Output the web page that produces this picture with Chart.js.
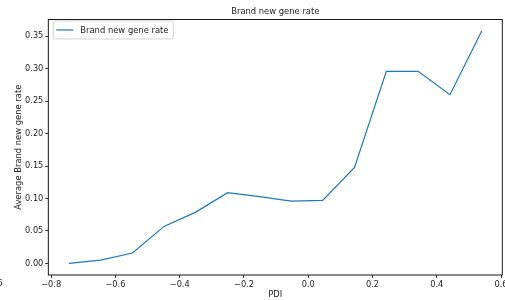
<!DOCTYPE html>
<html>
<head>
<meta charset="utf-8">
<script src="https://cdn.jsdelivr.net/npm/chart.js@4.4.1/dist/chart.umd.min.js"></script>
<style>
  html, body { margin: 0; padding: 0; background: #fff; overflow: hidden; }
  canvas { display: block; }
</style>
</head>
<body>
<canvas id="chart" width="505" height="300"></canvas>
<script>
// values
const pdi = [-0.745, -0.646, -0.547, -0.449, -0.350, -0.251, -0.152, -0.053, 0.045, 0.144, 0.243, 0.342, 0.441, 0.540];
const geneRate = [0.000, 0.005, 0.016, 0.057, 0.079, 0.109, 0.103, 0.096, 0.097, 0.148, 0.296, 0.296, 0.260, 0.358];
const xTicks = [-0.8, -0.6, -0.4, -0.2, 0.0, 0.2, 0.4, 0.6];
const yTicks = [0.00, 0.05, 0.10, 0.15, 0.20, 0.25, 0.30, 0.35];

const FONT = "'DejaVu Sans', sans-serif";
const lineColor = '#1f77b4';

const fmtX = v => (v < -1e-9 ? '\u2212' : '') + Math.abs(v).toFixed(1);
const fmtY = v => v.toFixed(2);

// box around the plot area + matplotlib style legend
const framePlugin = {
    id: 'frame',
    afterDatasetsDraw(chart) {
        const { ctx, chartArea: a } = chart;
        ctx.save();
        ctx.strokeStyle = '#000';
        ctx.lineWidth = 0.9;
        ctx.strokeRect(a.left, a.top, a.right - a.left, a.bottom - a.top);

        // legend
        const ds = chart.data.datasets[0];
        const x = a.left + 5, y = a.top + 1.5, w = 120, h = 18;
        ctx.beginPath();
        ctx.roundRect(x, y, w, h, 2);
        ctx.fillStyle = 'rgba(255,255,255,0.8)';
        ctx.fill();
        ctx.strokeStyle = '#d4d4d4';
        ctx.lineWidth = 1;
        ctx.stroke();
        ctx.beginPath();
        ctx.moveTo(x + 3, y + h / 2);
        ctx.lineTo(x + 20, y + h / 2);
        ctx.strokeStyle = ds.borderColor;
        ctx.lineWidth = 1.2;
        ctx.stroke();
        ctx.fillStyle = '#222';
        ctx.font = '8.4px ' + FONT;
        ctx.textBaseline = 'middle';
        ctx.textAlign = 'left';
        ctx.fillText(ds.label, x + 27, y + h / 2 + 0.5);

        // clipped tick label from the neighbouring panel at the left edge
        ctx.textAlign = 'right';
        ctx.textBaseline = 'top';
        ctx.fillText('6', 2.7, 280);
        ctx.restore();
    }
};

new Chart(document.getElementById('chart'), {
    type: 'line',
    data: {
        datasets: [{
            label: 'Brand new gene rate',
            data: pdi.map((x, i) => ({ x: x, y: geneRate[i] })),
            borderColor: lineColor,
            backgroundColor: lineColor,
            borderWidth: 1.2,
            pointRadius: 0,
            tension: 0,
            fill: false
        }]
    },
    options: {
        responsive: false,
        animation: false,
        layout: { padding: { left: 0, right: 2.7, top: 0, bottom: 0 } },
        plugins: {
            legend: { display: false },
            tooltip: { enabled: false },
            title: {
                display: true,
                text: 'Brand new gene rate',
                fullSize: false,
                color: '#222',
                font: { family: FONT, size: 8.4, weight: 'normal' },
                padding: { top: 7, bottom: 2.4 }
            }
        },
        scales: {
            x: {
                type: 'linear',
                min: -0.809,
                max: 0.604,
                afterBuildTicks: s => { s.ticks = xTicks.map(v => ({ value: v })); },
                afterFit: s => { s.height = 25; s.paddingLeft = 0; s.paddingRight = 0; },
                ticks: {
                    color: '#222',
                    padding: 2,
                    maxRotation: 0,
                    autoSkip: false,
                    font: { family: FONT, size: 8.2 },
                    callback: v => fmtX(v)
                },
                grid: { drawOnChartArea: false, drawTicks: true, tickLength: 3, color: '#000', lineWidth: 0.8 },
                border: { display: false },
                title: {
                    display: true,
                    text: 'PDI',
                    color: '#222',
                    font: { family: FONT, size: 8.4 },
                    padding: { top: 0, bottom: 0 }
                }
            },
            y: {
                min: -0.0179,
                max: 0.3759,
                afterBuildTicks: s => { s.ticks = yTicks.map(v => ({ value: v })); },
                afterFit: s => { s.width = 48.3; s.paddingTop = 0; s.paddingBottom = 0; },
                ticks: {
                    color: '#222',
                    padding: 2,
                    autoSkip: false,
                    font: { family: FONT, size: 8.2 },
                    callback: v => fmtY(v)
                },
                grid: { drawOnChartArea: false, drawTicks: true, tickLength: 3, color: '#000', lineWidth: 0.8 },
                border: { display: false },
                title: {
                    display: true,
                    text: 'Average Brand new gene rate',
                    color: '#222',
                    font: { family: FONT, size: 8.4 },
                    padding: { top: 14, bottom: 0 }
                }
            }
        }
    },
    plugins: [framePlugin]
});
</script>
</body>
</html>
